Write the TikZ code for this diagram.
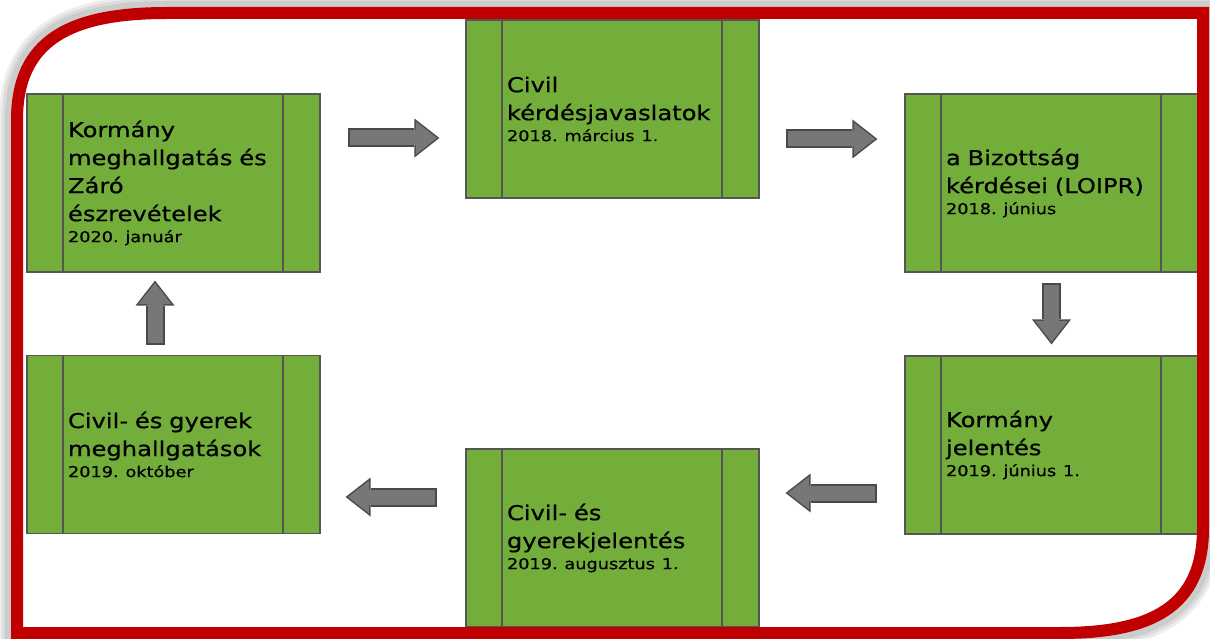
\documentclass[tikz,border=0pt]{standalone}
\usepackage{fontspec}
\setmainfont{DejaVu Sans}[FakeStretch=1.18, FakeBold=0.6]
\usetikzlibrary{arrows.meta}
\frenchspacing

\definecolor{stagegreen}{HTML}{74AE3A}
\definecolor{stageline}{HTML}{555555}
\definecolor{arrowfill}{HTML}{777777}
\definecolor{arrowline}{HTML}{4A4A4A}
\definecolor{framered}{HTML}{C00000}

\newcommand{\boxdate}[1]{\\[-7pt]{\fontsize{15}{18}\selectfont #1}}

\tikzset{
  stage/.style={draw=stageline, line width=1.2pt, fill=stagegreen,
    minimum width=293pt, minimum height=178pt, text width=211pt,
    inner xsep=41pt, inner ysep=0pt, align=left,
    font=\fontsize{20.5}{28}\selectfont,
    path picture={\draw[stageline, line width=1.2pt]
      ([xshift=36pt]path picture bounding box.north west) -- ([xshift=36pt]path picture bounding box.south west)
      ([xshift=-37pt]path picture bounding box.north east) -- ([xshift=-37pt]path picture bounding box.south east);}},
  flow/.style 2 args={draw=arrowfill, line width=15pt,
    shorten <=#1+2pt, shorten >=#2+2.5pt,
    -{Triangle[width=33pt,length=21pt,line width=0pt]},
    preaction={draw=arrowline, line width=19pt, shorten <=#1, shorten >=#2,
      -{Triangle[width=39pt,length=25pt,line width=0pt]}}},
  frameline/.style={insert path={(17,633) -- (17,120)
    .. controls (17,40) and (70,13) .. (167,13) -- (1203,13) -- (1203,528)
    .. controls (1203,608) and (1150,633) .. (1060,633) -- cycle}}
}

\begin{document}
\begin{tikzpicture}[x=1pt, y=-1pt]
  \useasboundingbox[fill=white] (0,0) rectangle (1210,639);
  \foreach \w in {36,30,24}
    \draw[frameline, black, opacity=0.07, line width=\w pt];
  \fill[frameline, white];

  \node[stage] (gov)    at (173.5,183)  {Kormány\\meghallgatás és\\Záró\\észrevételek\boxdate{2020. január}};
  \node[stage] (civq)   at (612.5,109)  {Civil\\kérdésjavaslatok\boxdate{2018. március 1.}};
  \node[stage] (loipr)  at (1051.5,183) {a Bizottság\\kérdései (LOIPR)\boxdate{2018. június}};
  \node[stage] (report) at (1051.5,445) {Kormány\\jelentés\boxdate{2019. június 1.}};
  \node[stage] (altrep) at (612.5,538)  {Civil- és\\gyerekjelentés\boxdate{2019. augusztus 1.}};
  \node[stage] (hear)   at (173.5,444.5) {Civil- és gyerek\\meghallgatások\boxdate{2019. október}};

  \path
    ([yshift=45pt]gov.east) edge[flow={27pt}{26pt}] ([yshift=-29pt]civq.west)
    ([yshift=-30pt]civq.east) edge[flow={26pt}{27pt}] ([yshift=44pt]loipr.west)
    (loipr.south) edge[flow={10pt}{11pt}] (report.north)
    ([yshift=-48pt]report.west) edge[flow={27pt}{26pt}] ([yshift=45pt]altrep.east)
    ([yshift=41pt]altrep.west) edge[flow={28pt}{25pt}] ([yshift=-52.5pt]hear.east)
    ([xshift=-18.5pt]hear.north) edge[flow={10pt}{8pt}] ([xshift=-18.5pt]gov.south);

  \draw[frameline, framered, line width=12pt];
\end{tikzpicture}
\end{document}
